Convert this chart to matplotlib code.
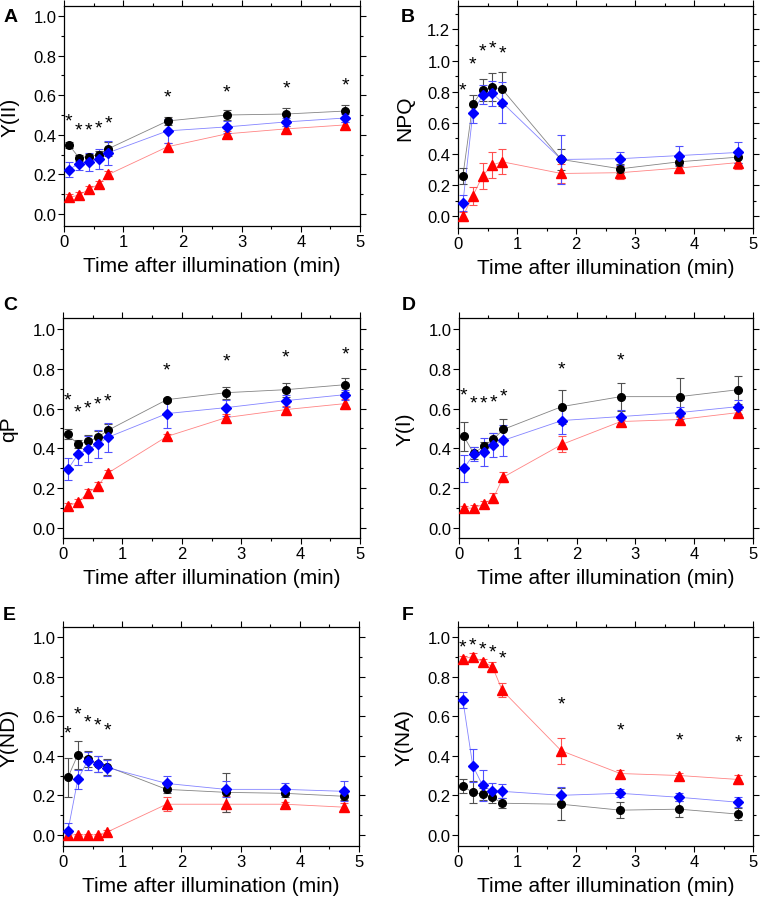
import matplotlib
matplotlib.use("Agg")
import matplotlib.pyplot as plt
from matplotlib.ticker import MultipleLocator

plt.rcParams['font.family'] = ['Liberation Sans', 'DejaVu Sans']

time = [0.083, 0.25, 0.417, 0.583, 0.75, 1.75, 2.75, 3.75, 4.75]

# A  Y(II)
yii_black = [0.35, 0.285, 0.29, 0.30, 0.33, 0.47, 0.50, 0.505, 0.52]
yii_black_err = [0.015, 0.015, 0.015, 0.02, 0.035, 0.02, 0.025, 0.03, 0.03]
yii_blue = [0.225, 0.255, 0.265, 0.28, 0.31, 0.42, 0.44, 0.465, 0.485]
yii_blue_err = [0.04, 0.03, 0.045, 0.05, 0.06, 0.06, 0.03, 0.02, 0.02]
yii_red = [0.085, 0.095, 0.125, 0.15, 0.20, 0.34, 0.405, 0.43, 0.45]
yii_red_err = [0.015, 0.015, 0.015, 0.015, 0.015, 0.02, 0.015, 0.015, 0.015]
yii_star = [0.50, 0.457, 0.457, 0.466, 0.49, 0.625, 0.65, 0.667, 0.684]

# B  NPQ
npq_black = [0.26, 0.72, 0.81, 0.83, 0.815, 0.365, 0.305, 0.35, 0.38]
npq_black_err = [0.05, 0.06, 0.07, 0.09, 0.11, 0.07, 0.03, 0.03, 0.04]
npq_blue = [0.085, 0.66, 0.78, 0.79, 0.73, 0.365, 0.37, 0.39, 0.41]
npq_blue_err = [0.05, 0.06, 0.06, 0.08, 0.13, 0.155, 0.04, 0.06, 0.07]
npq_red = [0.0, 0.13, 0.26, 0.33, 0.35, 0.275, 0.28, 0.31, 0.345]
npq_red_err = [0.03, 0.06, 0.085, 0.085, 0.08, 0.06, 0.04, 0.03, 0.04]
npq_star = [0.852, 1.018, 1.10, 1.12, 1.088]

# C  qP
qp_black = [0.47, 0.42, 0.435, 0.455, 0.49, 0.645, 0.68, 0.695, 0.72]
qp_black_err = [0.025, 0.02, 0.03, 0.03, 0.035, 0.01, 0.03, 0.035, 0.035]
qp_blue = [0.295, 0.37, 0.395, 0.42, 0.455, 0.575, 0.605, 0.64, 0.67]
qp_blue_err = [0.055, 0.055, 0.065, 0.07, 0.075, 0.07, 0.04, 0.03, 0.025]
qp_red = [0.11, 0.13, 0.175, 0.21, 0.275, 0.46, 0.555, 0.595, 0.625]
qp_red_err = [0.015, 0.015, 0.02, 0.02, 0.015, 0.01, 0.02, 0.02, 0.025]
qp_star = [0.674, 0.615, 0.635, 0.655, 0.67, 0.824, 0.87, 0.892, 0.906]

# D  Y(I)
yi_black = [0.46, 0.375, 0.41, 0.445, 0.495, 0.61, 0.66, 0.66, 0.695]
yi_black_err = [0.075, 0.03, 0.02, 0.03, 0.055, 0.085, 0.07, 0.095, 0.07]
yi_blue = [0.30, 0.37, 0.38, 0.415, 0.44, 0.54, 0.56, 0.58, 0.61]
yi_blue_err = [0.067, 0.035, 0.07, 0.06, 0.08, 0.07, 0.035, 0.03, 0.035]
yi_red = [0.10, 0.10, 0.12, 0.15, 0.255, 0.42, 0.535, 0.545, 0.58]
yi_red_err = [0.01, 0.015, 0.015, 0.025, 0.025, 0.04, 0.01, 0.015, 0.015]
yi_star = [0.703, 0.66, 0.66, 0.666, 0.694, 0.829, 0.876]

# E  Y(ND)
ynd_black = [0.29, 0.405, 0.385, 0.36, 0.345, 0.23, 0.215, 0.21, 0.195]
ynd_black_err = [0.1, 0.07, 0.04, 0.04, 0.04, 0.02, 0.1, 0.02, 0.02]
ynd_blue = [0.02, 0.28, 0.375, 0.36, 0.34, 0.26, 0.23, 0.23, 0.22]
ynd_blue_err = [0.04, 0.05, 0.045, 0.04, 0.04, 0.04, 0.04, 0.03, 0.05]
ynd_red = [0.0, 0.0, 0.0, 0.0, 0.015, 0.155, 0.155, 0.155, 0.14]
ynd_red_err = [0.01, 0.005, 0.005, 0.005, 0.01, 0.035, 0.04, 0.01, 0.02]
ynd_star = [0.545, 0.641, 0.604, 0.588, 0.562]

# F  Y(NA)
yna_black = [0.245, 0.215, 0.205, 0.19, 0.16, 0.155, 0.125, 0.13, 0.105]
yna_black_err = [0.035, 0.055, 0.03, 0.03, 0.025, 0.08, 0.04, 0.04, 0.03]
yna_blue = [0.68, 0.35, 0.25, 0.22, 0.22, 0.20, 0.21, 0.19, 0.165]
yna_blue_err = [0.04, 0.085, 0.08, 0.04, 0.035, 0.04, 0.02, 0.02, 0.025]
yna_red = [0.89, 0.90, 0.875, 0.85, 0.73, 0.425, 0.31, 0.30, 0.28]
yna_red_err = [0.015, 0.02, 0.015, 0.025, 0.035, 0.065, 0.02, 0.015, 0.025]
yna_star = [0.983, 0.992, 0.971, 0.955, 0.924, 0.692, 0.562, 0.512, 0.503]

fig = plt.figure(figsize=(7.62, 9.03), dpi=100)

# axes boxes in pixels: left, top, right, bottom
boxes = [(64, 7, 360, 227), (458, 7, 753, 229),
         (63, 319, 360, 539), (459, 319, 753, 539),
         (63, 628, 359, 847), (458, 628, 753, 847)]
letters = ['A', 'B', 'C', 'D', 'E', 'F']
letter_pos = [(4, 18), (401, 18), (3, 305), (402, 305), (3, 615), (402, 615)]
ylabels = ['Y(II)', 'NPQ', 'qP', 'Y(I)', 'Y(ND)', 'Y(NA)']
ylims = [(-0.06, 1.05), (-0.075, 1.35), (-0.05, 1.055), (-0.05, 1.055),
         (-0.056, 1.05), (-0.056, 1.05)]

panels = [
    (yii_black, yii_black_err, yii_blue, yii_blue_err, yii_red, yii_red_err, yii_star),
    (npq_black, npq_black_err, npq_blue, npq_blue_err, npq_red, npq_red_err, npq_star),
    (qp_black, qp_black_err, qp_blue, qp_blue_err, qp_red, qp_red_err, qp_star),
    (yi_black, yi_black_err, yi_blue, yi_blue_err, yi_red, yi_red_err, yi_star),
    (ynd_black, ynd_black_err, ynd_blue, ynd_blue_err, ynd_red, ynd_red_err, ynd_star),
    (yna_black, yna_black_err, yna_blue, yna_blue_err, yna_red, yna_red_err, yna_star),
]

W, H = 762, 903
for i in range(6):
    l, t, r, b = boxes[i]
    ax = fig.add_axes([l / W, (H - b) / H, (r - l) / W, (b - t) / H])
    bk, bke, bl, ble, rd, rde, star = panels[i]

    series = [(rd, rde, '#ff0000', '#ff5050', '^', 6.5),
              (bk, bke, '#000000', '#505050', 'o', 5.5),
              (bl, ble, '#0000ff', '#5050ff', 'D', 5)]
    for y, e, c, ec, m, ms in series:
        ax.errorbar(time, y, yerr=e, fmt='none', ecolor=ec, elinewidth=0.8,
                    capsize=2.8, capthick=0.8, zorder=2)
        ax.plot(time, y, '-', color=ec, lw=0.6, alpha=0.7, zorder=2)
        ax.plot(time, y, m, color=c, ms=ms, mec=c, zorder=3)

    for x, y in zip(time, star):
        ax.annotate('*', (x, y), xytext=(0, -4.6), textcoords='offset points',
                    ha='center', va='center', fontsize=14)

    ax.set_xlim(0, 5)
    ax.set_ylim(*ylims[i])
    ax.xaxis.set_major_locator(MultipleLocator(1))
    ax.xaxis.set_minor_locator(MultipleLocator(0.5))
    ax.yaxis.set_major_locator(MultipleLocator(0.2))
    ax.yaxis.set_minor_locator(MultipleLocator(0.1))
    ax.yaxis.set_major_formatter(matplotlib.ticker.FormatStrFormatter('%.1f'))
    ax.tick_params(which='both', direction='out', top=True, right=True,
                   labelsize=12, pad=1.5, width=0.8)
    ax.tick_params(which='major', length=4)
    ax.tick_params(which='minor', length=2.5)
    for s in ax.spines.values():
        s.set_linewidth(0.9)

    ax.set_xlabel('Time after illumination (min)', fontsize=15)
    ax.xaxis.set_label_coords(0.5, -0.135)
    ax.set_ylabel(ylabels[i], fontsize=15)
    ax.yaxis.set_label_coords(-0.15, 0.5)

    fig.text(letter_pos[i][0] / W, 1 - letter_pos[i][1] / H, letters[i],
             fontsize=14, fontweight='bold', ha='left', va='center')

fig.savefig('out.png', dpi=100)
